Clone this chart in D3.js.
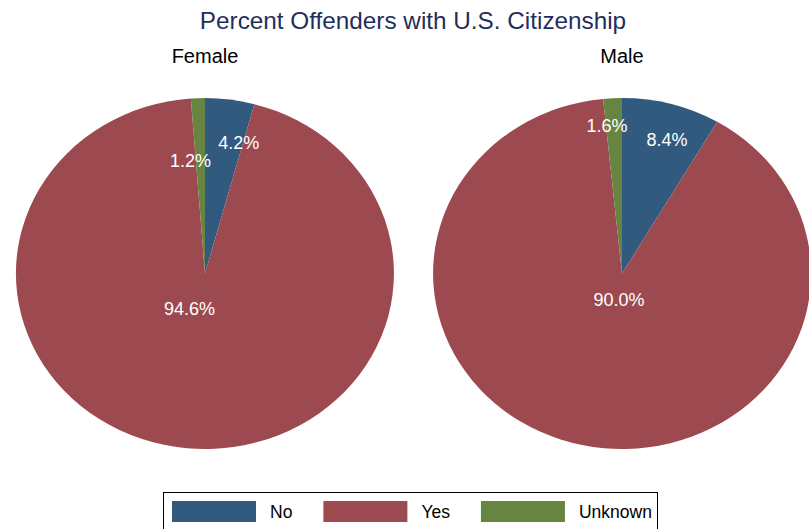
<!DOCTYPE html>
<html>
<head>
<meta charset="utf-8">
<script src="https://cdn.jsdelivr.net/npm/d3@7"></script>
<style>
  body { margin: 0; background: #fff; }
  text { font-family: "Liberation Sans", Arial, sans-serif; }
</style>
</head>
<body>
<script>
//wrap everything in a self-executing anonymous function
(function(){

    //chart data
    var categories = ["No", "Yes", "Unknown"];
    var groups = ["Female", "Male"];
    var femaleValues = [4.2, 94.6, 1.2];
    var maleValues = [8.4, 90.0, 1.6];
    var colors = ["#325a7e", "#9c4a50", "#678540"];

    //label placement along slice bisector (fraction of radius) and sideways nudge
    var femaleLabelR = [0.75, 0.2, 0.646];
    var femaleLabelDx = [15, -12, -10];
    var maleLabelR = [0.79, 0.152, 0.845];
    var maleLabelDx = [6, 3, -7];

    var width = 809,
        height = 529;

    var svg = d3.select("body")
        .append("svg")
        .attr("width", width)
        .attr("height", height);

    //title
    svg.append("text")
        .attr("x", 413)
        .attr("y", 29)
        .attr("text-anchor", "middle")
        .style("font-size", "24.3px")
        .style("fill", "#1f2f5c")
        .text("Percent Offenders with U.S. Citizenship");

    //pie panel centres
    var xPanel = d3.scalePoint()
        .domain(groups)
        .range([205, 622]);

    var cy = 273.5,
        rx = 189,
        ry = 175.5;

    var pie = d3.pie()
        .sort(null)
        .value(function(d){ return d; });

    var arc = d3.arc()
        .innerRadius(0)
        .outerRadius(1);

    var panels = [
        {name: "Female", values: femaleValues, labelR: femaleLabelR, labelDx: femaleLabelDx},
        {name: "Male", values: maleValues, labelR: maleLabelR, labelDx: maleLabelDx}
    ];

    panels.forEach(function(p){
        var cx = xPanel(p.name);
        var slices = pie(p.values);

        //panel heading
        svg.append("text")
            .attr("x", cx)
            .attr("y", 63)
            .attr("text-anchor", "middle")
            .style("font-size", "20px")
            .style("fill", "#000")
            .text(p.name);

        //slices drawn on a unit circle, stretched to the ellipse
        var g = svg.append("g")
            .attr("transform", "translate(" + cx + "," + cy + ") scale(" + rx + "," + ry + ")");

        g.selectAll(".slice")
            .data(slices)
            .enter()
            .append("path")
            .attr("class", "slice")
            .attr("d", arc)
            .style("fill", function(d, i){ return colors[i]; });

        //percentage labels
        svg.selectAll(".lbl-" + p.name)
            .data(slices)
            .enter()
            .append("text")
            .attr("class", "lbl-" + p.name)
            .attr("x", function(d, i){
                var a = (d.startAngle + d.endAngle) / 2;
                return cx + Math.sin(a) * rx * p.labelR[i] + p.labelDx[i];
            })
            .attr("y", function(d, i){
                var a = (d.startAngle + d.endAngle) / 2;
                return cy - Math.cos(a) * ry * p.labelR[i];
            })
            .attr("dy", "0.35em")
            .attr("text-anchor", "middle")
            .style("font-size", "18px")
            .style("fill", "#fff")
            .text(function(d){ return d.data.toFixed(1) + "%"; });
    });

    //legend
    var legend = svg.append("g");

    legend.append("rect")
        .attr("x", 163.5)
        .attr("y", 492.5)
        .attr("width", 494)
        .attr("height", 50)
        .style("fill", "#fff")
        .style("stroke", "#000")
        .style("stroke-width", 1);

    var lx = 172;
    categories.forEach(function(c, i){
        legend.append("rect")
            .attr("x", lx)
            .attr("y", 501)
            .attr("width", 84)
            .attr("height", 21)
            .style("fill", colors[i]);
        var t = legend.append("text")
            .attr("x", lx + 98)
            .attr("y", 518)
            .style("font-size", "17.5px")
            .style("fill", "#000")
            .text(c);
        lx = lx + 98 + t.node().getComputedTextLength() + 31;
    });

})();
</script>
</body>
</html>
